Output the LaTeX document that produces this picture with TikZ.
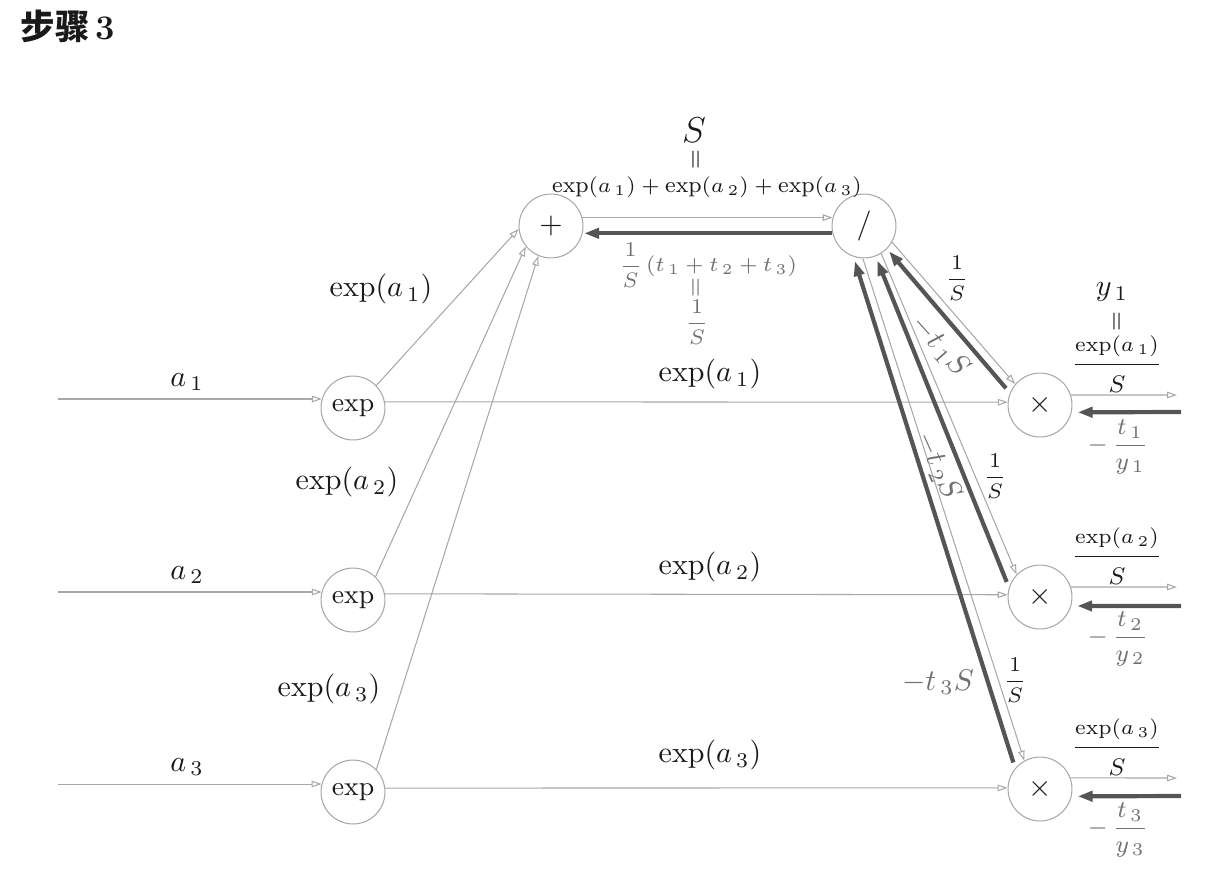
\documentclass[tikz,border=0pt]{standalone}
\usepackage{fontspec}
\newfontfamily\cjk{Noto Sans CJK SC}
\usepackage{amsmath}
\usepackage{graphicx}
\usetikzlibrary{arrows.meta,calc}
\definecolor{thinc}{HTML}{A8A8A8}
\definecolor{thickc}{HTML}{555555}
\definecolor{gtext}{HTML}{707070}
\definecolor{btext}{HTML}{1A1A1A}
\newcommand{\veqq}{\rotatebox{90}{$=$}}
\newcommand{\numfont}{\fontsize{7}{8}\selectfont}
\newcommand{\denfont}{\fontsize{8.5}{10}\selectfont}
\newcommand{\yfrac}[1]{\dfrac{\mbox{\numfont$\exp(a_{\,#1})$}}{\mbox{\denfont$S$}}}
\begin{document}
\begin{tikzpicture}[x=0.33333pt,y=-0.33333pt,
 op/.style={circle,draw=thinc,line width=0.35pt,minimum size=21.3pt,inner sep=0pt,text=btext},
 fwd/.style={draw=thinc,line width=0.35pt,-{Triangle[open,length=3.3pt,width=2.2pt]}},
 bwd/.style={draw=thickc,line width=1.4pt,-{Triangle[length=5pt,width=3.4pt]}},
 lbl/.style={text=btext,inner sep=0pt},
 glbl/.style={text=gtext,inner sep=0pt},
]
\useasboundingbox (0,0) rectangle (1206,872);
% title
\node[lbl,anchor=west] (title) at (20,26) {\fontsize{11.5}{14}\selectfont\cjk\bfseries 步骤\,{\normalfont\bfseries 3}};
% nodes
\node[op] (e1) at (353,408) {\small exp};
\node[op] (e2) at (353,600) {\small exp};
\node[op] (e3) at (353,792) {\small exp};
\node[op] (plus) at (551,226) {$+$};
\node[op] (div) at (864,226) {$/$};
\node[op] (t1) at (1040,405) {$\times$};
\node[op] (t2) at (1040,597) {$\times$};
\node[op] (t3) at (1040,789) {$\times$};
% free ends
\coordinate (in1) at (58,399);
\coordinate (in2) at (58,592);
\coordinate (in3) at (58,784);
\coordinate (o1) at (1177,395);
\coordinate (o2) at (1177,587);
\coordinate (o3) at (1177,778);
\coordinate (b1) at (1181,412);
\coordinate (b2) at (1181,606);
\coordinate (b3) at (1181,796);
% inputs
\draw[fwd] (in1) -- (in1 -| e1.164);
\draw[fwd] (in2) -- (in2 -| e2.164);
\draw[fwd] (in3) -- (in3 -| e3.166);
% exp -> times
\draw[fwd] (e1.11) -- (t1.175);
\draw[fwd] (e2.11) -- (t2.176);
\draw[fwd] (e3.7) -- (t3.178);
% exp -> plus
\draw[fwd] (e1.44) -- (plus.185);
\draw[fwd] (e2.46) -- (plus.219);
\draw[fwd] (e3.44) -- (plus.247);
% plus <-> div
\draw[fwd] (plus.15) -- (div.165);
\draw[bwd,shorten >=0.5pt] (div.193) -- (plus.347);
% div <-> times
\draw[fwd] (div.330) -- (t1.140);
\draw[bwd,shorten <=2pt,shorten >=1pt] (t1.158) -- (div.315);
\draw[fwd] (div.302) -- (t2.136);
\draw[bwd,shorten <=2pt,shorten >=1.5pt] (t2.163) -- (div.291);
\draw[fwd] (div.268) -- (t3.119);
\draw[bwd,shorten <=2pt,shorten >=1.5pt] (t3.140) -- (div.251);
% outputs
\draw[fwd] (t1.18) -- (o1);
\draw[fwd] (t2.18) -- (o2);
\draw[fwd] (t3.20) -- (o3);
\draw[bwd,shorten >=2pt] (b1) -- (t1.347);
\draw[bwd,shorten >=2pt] (b2) -- (t2.344);
\draw[bwd,shorten >=2pt] (b3) -- (t3.347);
% input labels
\node[lbl] (la1) at (187,382) {$a_{\,1}$};
\node[lbl] (la2) at (187,575) {$a_{\,2}$};
\node[lbl] (la3) at (187,767) {$a_{\,3}$};
% exp->plus labels
\node[lbl] (lp1) at (381,289) {$\exp(a_{\,1})$};
\node[lbl] (lp2) at (347,482) {$\exp(a_{\,2})$};
\node[lbl] (lp3) at (329,689) {$\exp(a_{\,3})$};
% middle labels
\node[lbl] (lm1) at (710,374) {$\exp(a_{\,1})$};
\node[lbl] (lm2) at (710,567) {$\exp(a_{\,2})$};
\node[lbl] (lm3) at (710,755) {$\exp(a_{\,3})$};
% top labels
\node[lbl] (ls) at (694,130) {\large $S$};
\node[lbl] (lseq) at (697,160) {\footnotesize\veqq};
\node[lbl] (lsum) at (707,187) {\fontsize{7.5}{9}\selectfont $\exp(a_{\,1})+\exp(a_{\,2})+\exp(a_{\,3})$};
% bottom (gray)
\node[glbl] (lg) at (708,265) {\scriptsize $\dfrac{1}{S}\,(t_{\,1}+t_{\,2}+t_{\,3})$};
\node[glbl] (lgeq) at (697,288) {\footnotesize\veqq};
\node[glbl] (lg2) at (697,322) {\scriptsize $\dfrac{1}{S}$};
% div -> times labels
\node[lbl] (ld1) at (957,278) {\scriptsize $\dfrac{1}{S}$};
\node[lbl] (ld2) at (995,476) {\scriptsize $\dfrac{1}{S}$};
\node[lbl] (ld3) at (1015,680) {\scriptsize $\dfrac{1}{S}$};
\node[glbl,rotate=-48] (lb1) at (940,346) {$-t_{\,1}S$};
\node[glbl,rotate=-66] (lb2) at (938,466) {$-t_{\,2}S$};
\node[glbl] (lb3) at (938,682) {$-t_{\,3}S$};
% right labels
\node[lbl] (ly1) at (1112,292) {$y_{\,1}$};
\node[lbl] (lyeq) at (1118,322) {\footnotesize\veqq};
\node[lbl] (lo1) at (1117,364) {$\yfrac{1}$};
\node[lbl] (lo2) at (1117,556) {$\yfrac{2}$};
\node[lbl] (lo3) at (1117,747) {$\yfrac{3}$};
\node[glbl] (lr1) at (1118,447) {\footnotesize $-\,\dfrac{t_{\,1}}{y_{\,1}}$};
\node[glbl] (lr2) at (1118,639) {\footnotesize $-\,\dfrac{t_{\,2}}{y_{\,2}}$};
\node[glbl] (lr3) at (1118,830) {\footnotesize $-\,\dfrac{t_{\,3}}{y_{\,3}}$};
\end{tikzpicture}
\end{document}
